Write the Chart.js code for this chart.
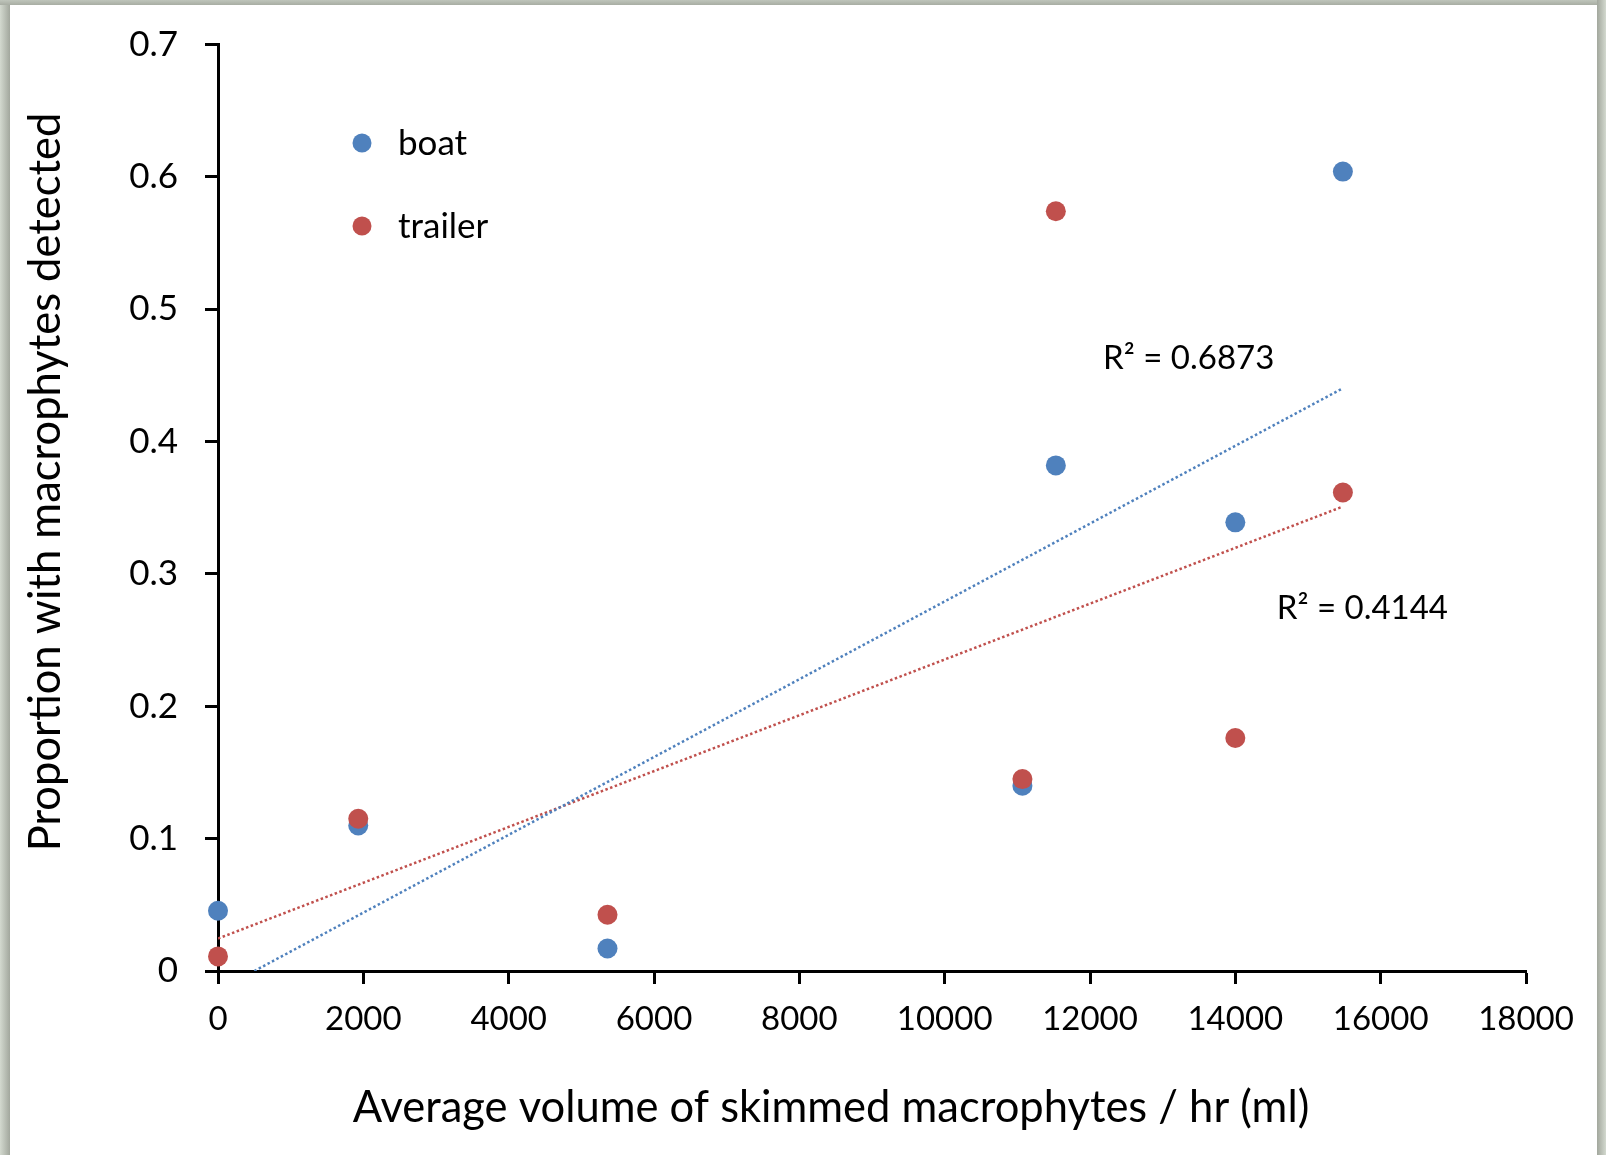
<!DOCTYPE html>
<html>
<head>
<meta charset="utf-8">
<title>Macrophytes detected vs skimmed volume</title>
<script src="https://cdn.jsdelivr.net/npm/chart.js@4.4.1/dist/chart.umd.min.js"></script>
<style>
  html, body { margin: 0; padding: 0; background: #ffffff; }
  #wrap { width: 1606px; height: 1155px; }
</style>
</head>
<body>
<div id="wrap"><canvas id="chart" width="1606" height="1155"></canvas></div>
<script>
// ----------------------------------------------------------------
// Data
// ----------------------------------------------------------------

const volumeX      = [0, 1930, 5360, 11070, 11530, 14000, 15480];
const boatValues   = [0.0455, 0.110, 0.017, 0.140, 0.382, 0.339, 0.604];
const trailerValues = [0.011, 0.115, 0.0425, 0.145, 0.574, 0.176, 0.3615];

// trendline end points as drawn in the original (Excel linear fits)
const boatTrendX    = [500, 15470];
const boatTrendY    = [0, 0.440];
const trailerTrendX = [0, 15470];
const trailerTrendY = [0.0245, 0.3507];

const xTicks      = [0, 2000, 4000, 6000, 8000, 10000, 12000, 14000, 16000, 18000];
const xTickLabels = ["0", "2000", "4000", "6000", "8000", "10000", "12000", "14000", "16000", "18000"];
const yTicks      = [0, 0.1, 0.2, 0.3, 0.4, 0.5, 0.6, 0.7];
const yTickLabels = ["0", "0.1", "0.2", "0.3", "0.4", "0.5", "0.6", "0.7"];

const seriesNames = ["boat", "trailer"];
const r2Labels    = ["R\u00B2 = 0.6873", "R\u00B2 = 0.4144"];
const r2AnchorX   = [12180, 14570];
const r2AnchorY   = [0.4625, 0.274];

const xTitle = "Average volume of skimmed macrophytes / hr (ml)";
const yTitle = "Proportion with macrophytes detected";

const BLUE = "#4F81BD";
const RED  = "#C0504D";
const FONT = "Lato, 'Open Sans', sans-serif";

// zip helper: two arrays -> [{x, y}]
const pts = (xs, ys) => xs.map((x, i) => ({ x: x, y: ys[i] }));


// ----------------------------------------------------------------
// Plugin: frame, legend, axis titles and R² labels
// ----------------------------------------------------------------

const decorations = {
  id: "decorations",
  beforeDraw(chart) {
    const ctx = chart.ctx;
    const W = chart.width, H = chart.height;
    ctx.save();
    ctx.fillStyle = "#ffffff";
    ctx.fillRect(0, 0, W, H);

    // grey picture frame (left, top, right)
    let g = ctx.createLinearGradient(0, 0, 10, 0);
    g.addColorStop(0, "#d3d9cf");
    g.addColorStop(1, "#a2a79d");
    ctx.fillStyle = g;
    ctx.fillRect(0, 0, 10, H);

    g = ctx.createLinearGradient(0, 0, 0, 6);
    g.addColorStop(0, "#bfc5bb");
    g.addColorStop(1, "#a3a89e");
    ctx.fillStyle = g;
    ctx.fillRect(0, 0, W, 5);

    g = ctx.createLinearGradient(W - 9, 0, W, 0);
    g.addColorStop(0, "#a2a79d");
    g.addColorStop(1, "#d3d9cf");
    ctx.fillStyle = g;
    ctx.fillRect(W - 9, 0, 9, H);
    ctx.restore();
  },
  afterDraw(chart) {
    const ctx = chart.ctx;
    const xs = chart.scales.x, ys = chart.scales.y;
    ctx.save();
    ctx.fillStyle = "#000000";

    // legend
    const colors = [BLUE, RED];
    const legendY = [143, 226];
    ctx.font = "35px " + FONT;
    ctx.textBaseline = "middle";
    ctx.textAlign = "left";
    seriesNames.forEach((name, i) => {
      ctx.fillStyle = colors[i];
      ctx.beginPath();
      ctx.arc(362, legendY[i], 9.5, 0, Math.PI * 2);
      ctx.fill();
      ctx.fillStyle = "#000000";
      ctx.fillText(name, 398, legendY[i] + 1);
    });

    // R² labels
    ctx.font = "33px " + FONT;
    r2Labels.forEach((t, i) => {
      ctx.fillText(t, xs.getPixelForValue(r2AnchorX[i]), ys.getPixelForValue(r2AnchorY[i]));
    });

    // axis titles
    ctx.font = "43.5px " + FONT;
    ctx.textAlign = "center";
    ctx.fillText(xTitle, 831, 1108);

    ctx.translate(46, 482);
    ctx.rotate(-Math.PI / 2);
    ctx.fillText(yTitle, 0, 0);
    ctx.restore();
  }
};


// ----------------------------------------------------------------
// Chart
// ----------------------------------------------------------------

const axisCommon = {
  grid: {
    display: true,
    drawOnChartArea: false,
    drawTicks: true,
    tickLength: 13,
    tickWidth: 3,
    tickColor: "#000000",
  },
  border: { display: true, color: "#000000", width: 3 },
};

new Chart(document.getElementById("chart").getContext("2d"), {
  type: "scatter",
  data: {
    datasets: [
      {
        label: "boat trend",
        type: "line",
        data: pts(boatTrendX, boatTrendY),
        borderColor: BLUE,
        borderWidth: 2.5,
        borderDash: [2.5, 2.5],
        pointRadius: 0,
        fill: false,
        order: 0,
      },
      {
        label: "trailer trend",
        type: "line",
        data: pts(trailerTrendX, trailerTrendY),
        borderColor: RED,
        borderWidth: 2.5,
        borderDash: [2.5, 2.5],
        pointRadius: 0,
        fill: false,
        order: 0,
      },
      {
        label: seriesNames[1],
        data: pts(volumeX, trailerValues),
        backgroundColor: RED,
        borderColor: RED,
        borderWidth: 0,
        pointRadius: 10,
        clip: false,
        order: 1,
      },
      {
        label: seriesNames[0],
        data: pts(volumeX, boatValues),
        backgroundColor: BLUE,
        borderColor: BLUE,
        borderWidth: 0,
        pointRadius: 10,
        clip: false,
        order: 2,
      },
    ],
  },
  options: {
    responsive: false,
    animation: false,
    events: [],
    layout: { padding: { left: 0, top: 40, right: 80, bottom: 0 } },
    plugins: {
      legend: { display: false },
      tooltip: { enabled: false },
    },
    scales: {
      x: {
        ...axisCommon,
        type: "linear",
        min: 0,
        max: 18000,
        afterBuildTicks: (axis) => { axis.ticks = xTicks.map(v => ({ value: v })); },
        afterFit: (axis) => { axis.height = 184; },
        ticks: {
          color: "#000000",
          padding: 16,
          maxRotation: 0,
          autoSkip: false,
          font: { family: FONT, size: 33 },
          callback: (v, i) => xTickLabels[i],
        },
      },
      y: {
        ...axisCommon,
        type: "linear",
        min: 0,
        max: 0.7,
        afterBuildTicks: (axis) => { axis.ticks = yTicks.map(v => ({ value: v })); },
        afterFit: (axis) => { axis.width = 218; },
        ticks: {
          color: "#000000",
          padding: 27,
          autoSkip: false,
          font: { family: FONT, size: 35, lineHeight: 1 },
          callback: (v, i) => yTickLabels[i],
        },
      },
    },
  },
  plugins: [decorations],
});
</script>
</body>
</html>
